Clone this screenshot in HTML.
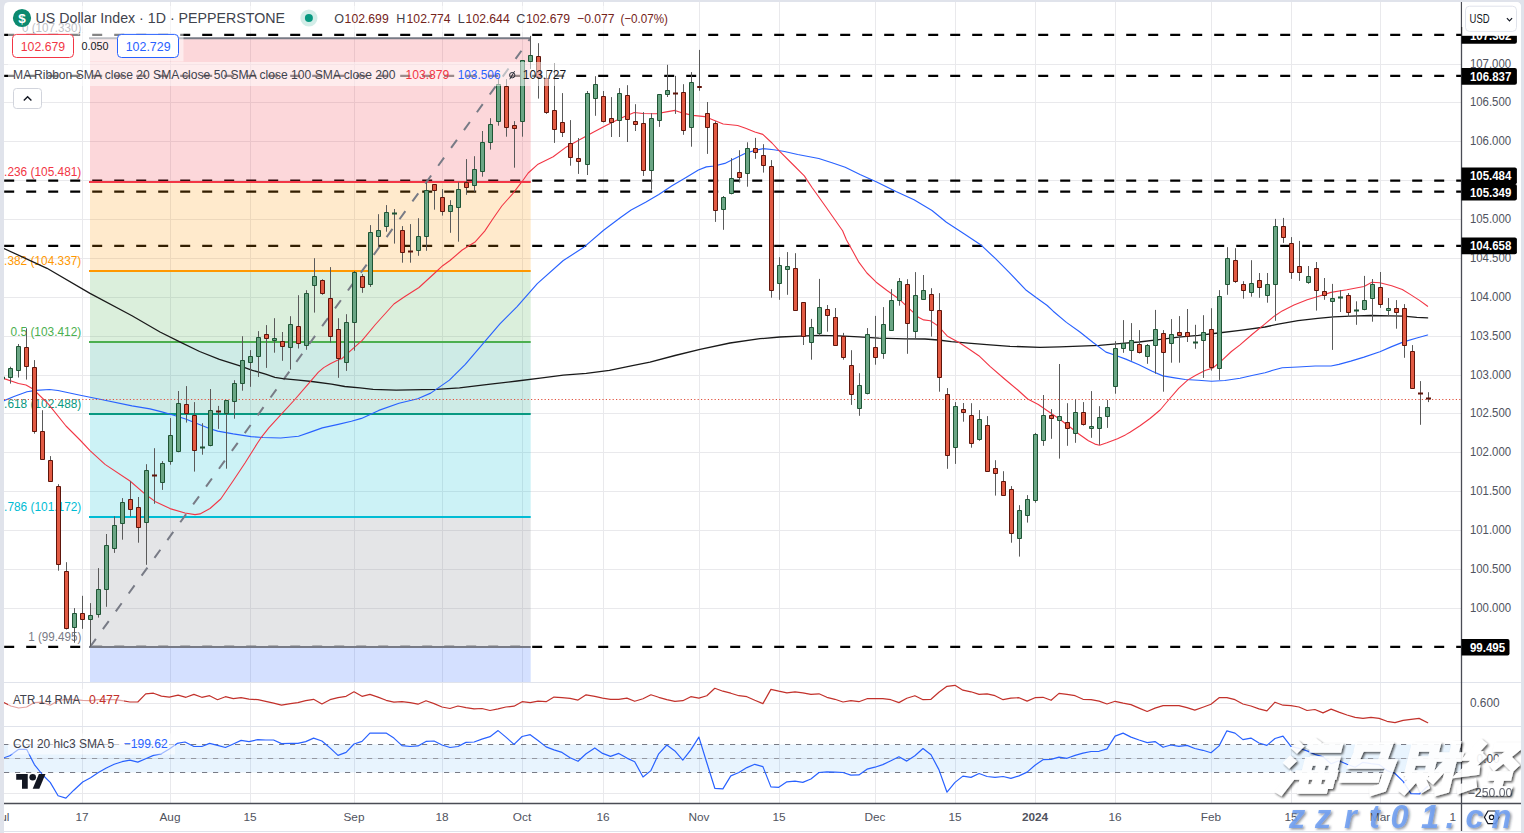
<!DOCTYPE html>
<html><head><meta charset="utf-8"><title>US Dollar Index</title>
<style>
html,body{margin:0;padding:0;background:#e0e3eb;}
body{width:1524px;height:833px;overflow:hidden;font-family:"Liberation Sans",sans-serif;}
svg{display:block;}
svg text{font-family:"Liberation Sans",sans-serif;}
</style></head><body>
<svg width="1524" height="833" viewBox="0 0 1524 833">
<defs><clipPath id="cp"><path d="M4 831V7Q4 2 9 2H1516Q1521 2 1521 7V831Z M4 832H1521V833H4Z"/></clipPath><clipPath id="pan"><path d="M4 831V7Q4 2 9 2H1516Q1521 2 1521 7V831Z"/></clipPath>
<clipPath id="main"><rect x="4" y="2" width="1457.5" height="680.5"/></clipPath>
<clipPath id="atr"><rect x="4" y="682.5" width="1457.5" height="44.0"/></clipPath>
<clipPath id="cci"><rect x="4" y="726.5" width="1457.5" height="77.0"/></clipPath>
<filter id="wsh" x="-5%" y="-10%" width="110%" height="130%"><feDropShadow dx="1.6" dy="1.6" stdDeviation="0.9" flood-color="#000" flood-opacity="0.75"/></filter>
<filter id="wsh2" x="-5%" y="-20%" width="110%" height="150%"><feDropShadow dx="1.5" dy="1.5" stdDeviation="0.8" flood-color="#1b2a3a" flood-opacity="0.55"/></filter>
</defs>
<g clip-path="url(#cp)">
<rect x="0" y="0" width="1524" height="833" fill="#e0e3eb"/>
<path d="M4 831V7Q4 2 9 2H1516Q1521 2 1521 7V831Z" fill="#ffffff"/>
<rect x="4" y="832" width="1517" height="1" fill="#ffffff"/>
<path d="M82.5 2V803.5 M170.5 2V803.5 M250.5 2V803.5 M354.5 2V803.5 M442.5 2V803.5 M522.5 2V803.5 M603.5 2V803.5 M699.5 2V803.5 M779.5 2V803.5 M875.5 2V803.5 M955.5 2V803.5 M1035.5 2V803.5 M1115.5 2V803.5 M1211.5 2V803.5 M1291.5 2V803.5 M1380.5 2V803.5 M4 64.5H1461.5 M4 102.5H1461.5 M4 141.5H1461.5 M4 180.5H1461.5 M4 219.5H1461.5 M4 258.5H1461.5 M4 297.5H1461.5 M4 336.5H1461.5 M4 375.5H1461.5 M4 413.5H1461.5 M4 452.5H1461.5 M4 491.5H1461.5 M4 530.5H1461.5 M4 569.5H1461.5 M4 608.5H1461.5 M4 703.5H1461.5 M4 758.5H1461.5 M4 793.5H1461.5" stroke="#e9e9ec" stroke-width="1" fill="none"/>
<g clip-path="url(#main)">
<line x1="4.2" y1="34.9" x2="1461.5" y2="34.9" stroke="#000" stroke-width="2.3" stroke-dasharray="10 12"/>
<line x1="4.2" y1="75.9" x2="1461.5" y2="75.9" stroke="#000" stroke-width="2.3" stroke-dasharray="10 12"/>
<line x1="4.2" y1="180.7" x2="1461.5" y2="180.7" stroke="#000" stroke-width="2.3" stroke-dasharray="10 12"/>
<line x1="4.2" y1="191.7" x2="1461.5" y2="191.7" stroke="#000" stroke-width="2.3" stroke-dasharray="10 12"/>
<line x1="4.2" y1="245.9" x2="1461.5" y2="245.9" stroke="#000" stroke-width="2.3" stroke-dasharray="10 12"/>
<line x1="4.2" y1="646.9" x2="1461.5" y2="646.9" stroke="#000" stroke-width="2.3" stroke-dasharray="10 12"/>
<rect x="90" y="38.2" width="440.7" height="143.8" fill="#f23645" fill-opacity="0.2"/>
<rect x="90" y="182.0" width="440.7" height="88.9" fill="#ff9800" fill-opacity="0.2"/>
<rect x="90" y="270.9" width="440.7" height="71.1" fill="#4caf50" fill-opacity="0.2"/>
<rect x="90" y="342.0" width="440.7" height="72.0" fill="#089981" fill-opacity="0.2"/>
<rect x="90" y="414.0" width="440.7" height="102.9" fill="#00bcd4" fill-opacity="0.2"/>
<rect x="90" y="516.9" width="440.7" height="130.1" fill="#787b86" fill-opacity="0.2"/>
<rect x="90" y="647" width="440.7" height="35.0" fill="#2962ff" fill-opacity="0.2"/>
<line x1="89" y1="38.2" x2="530.7" y2="38.2" stroke="#787b86" stroke-width="2"/>
<line x1="89" y1="182.0" x2="530.7" y2="182.0" stroke="#f23645" stroke-width="2"/>
<line x1="89" y1="270.9" x2="530.7" y2="270.9" stroke="#ff9800" stroke-width="2"/>
<line x1="89" y1="342.0" x2="530.7" y2="342.0" stroke="#4caf50" stroke-width="2"/>
<line x1="89" y1="414.0" x2="530.7" y2="414.0" stroke="#089981" stroke-width="2"/>
<line x1="89" y1="516.9" x2="530.7" y2="516.9" stroke="#00bcd4" stroke-width="2"/>
<line x1="89" y1="647.0" x2="530.7" y2="647.0" stroke="#787b86" stroke-width="2"/>
<line x1="90" y1="647" x2="530.2" y2="38.6" stroke="#787b86" stroke-width="2" stroke-dasharray="10 12"/>
<text x="22.0" y="32.4" font-size="12" fill="#787b86" textLength="59.3" lengthAdjust="spacingAndGlyphs">0 (107.330)</text>
<text x="-2.5" y="176.2" font-size="12" fill="#f23645" textLength="83.8" lengthAdjust="spacingAndGlyphs">0.236 (105.481)</text>
<text x="-2.5" y="265.1" font-size="12" fill="#ff9800" textLength="83.8" lengthAdjust="spacingAndGlyphs">0.382 (104.337)</text>
<text x="10.599999999999994" y="336.2" font-size="12" fill="#4caf50" textLength="70.7" lengthAdjust="spacingAndGlyphs">0.5 (103.412)</text>
<text x="-2.5" y="408.2" font-size="12" fill="#089981" textLength="83.8" lengthAdjust="spacingAndGlyphs">0.618 (102.488)</text>
<text x="-2.5" y="511.1" font-size="12" fill="#00bcd4" textLength="83.8" lengthAdjust="spacingAndGlyphs">0.786 (101.172)</text>
<text x="28.199999999999996" y="641.2" font-size="12" fill="#787b86" textLength="53.1" lengthAdjust="spacingAndGlyphs">1 (99.495)</text>
<path d="M4.0 248.5 L47.0 268.3 L90.0 293.4 L132.0 315.8 L160.0 332.0 L179.8 341.9 L199.6 351.5 L219.4 359.4 L239.2 365.6 L252.4 370.3 L265.6 374.2 L274.9 377.3 L282.8 378.6 L298.6 380.2 L311.8 381.5 L331.6 384.1 L344.8 386.5 L360.0 387.9 L373.1 389.3 L396.1 390.2 L436.5 389.3 L459.5 387.9 L488.3 384.4 L517.1 381.0 L540.2 378.1 L563.3 375.2 L586.3 373.4 L609.4 370.3 L632.4 365.7 L650.0 362.2 L675.0 355.5 L700.0 349.3 L730.0 343.0 L760.0 338.7 L779.8 337.0 L799.6 336.1 L819.4 335.4 L839.2 335.8 L859.0 336.9 L878.8 338.1 L905.2 338.8 L925.0 339.0 L938.2 340.0 L951.4 341.7 L968.2 343.2 L990.0 344.8 L1010.0 346.3 L1040.0 347.3 L1059.8 346.9 L1079.6 346.2 L1099.4 345.3 L1119.2 343.6 L1139.0 342.0 L1158.8 339.6 L1178.6 337.2 L1198.4 335.4 L1218.2 333.0 L1240.0 330.4 L1265.0 327.0 L1278.2 324.1 L1298.0 320.6 L1317.8 318.4 L1333.6 316.9 L1350.8 316.2 L1370.6 315.5 L1390.4 315.8 L1403.6 316.2 L1416.8 317.3 L1427.6 317.9" fill="none" stroke="#1a1a1a" stroke-width="1.3" stroke-linejoin="round" stroke-linecap="round"/>
<path d="M4.0 400.7 L14.0 396.5 L27.0 391.8 L36.0 390.4 L49.5 389.5 L58.0 390.5 L79.0 395.0 L100.0 399.3 L132.0 405.9 L150.0 408.9 L161.9 411.9 L173.8 415.2 L185.6 419.0 L197.5 423.8 L209.4 428.5 L217.7 431.1 L233.2 433.9 L251.0 436.6 L262.9 437.5 L280.7 438.0 L298.5 436.2 L310.4 432.1 L322.3 427.9 L338.2 424.4 L351.4 421.3 L361.5 418.4 L378.8 410.4 L399.0 403.2 L417.7 398.8 L430.7 393.1 L449.4 380.1 L465.3 364.3 L482.6 344.1 L499.9 323.9 L517.1 306.6 L537.3 283.6 L563.3 260.5 L583.4 247.6 L603.6 230.3 L620.9 217.3 L631.1 210.0 L645.6 202.3 L658.8 194.4 L672.0 185.8 L685.2 177.9 L698.4 170.0 L706.3 166.9 L714.3 166.0 L724.8 163.4 L734.3 158.8 L744.9 153.5 L755.4 150.2 L763.4 148.6 L773.9 149.8 L784.5 151.5 L797.7 154.5 L818.8 158.5 L832.0 162.7 L845.2 167.3 L860.0 174.5 L876.2 181.7 L896.0 191.6 L914.0 199.7 L932.0 210.5 L946.4 222.2 L964.4 233.9 L980.6 244.7 L995.0 258.2 L1009.4 272.6 L1025.6 289.7 L1036.4 297.8 L1047.2 305.5 L1053.2 311.2 L1066.4 322.4 L1079.6 331.7 L1092.8 342.2 L1106.0 352.1 L1113.9 354.8 L1125.8 359.1 L1139.0 364.7 L1152.2 371.3 L1162.8 375.9 L1174.7 377.9 L1185.2 379.5 L1198.4 380.3 L1211.6 381.2 L1224.8 380.5 L1240.0 378.2 L1252.0 375.5 L1265.0 372.7 L1272.9 370.3 L1282.2 367.7 L1298.0 367.0 L1315.2 366.0 L1331.0 366.0 L1338.9 364.4 L1350.8 361.1 L1364.0 357.1 L1379.9 351.8 L1391.7 346.6 L1403.6 341.9 L1416.8 338.0 L1427.6 335.0" fill="none" stroke="#2962ff" stroke-width="1.15" stroke-linejoin="round" stroke-linecap="round"/>
<path d="M4.0 378.6 L18.5 383.5 L26.0 385.0 L33.0 389.0 L48.0 403.6 L66.0 426.0 L80.0 440.0 L90.0 450.6 L105.0 464.4 L130.0 481.0 L146.0 494.8 L155.0 501.4 L170.0 508.6 L185.0 513.0 L195.0 514.6 L200.0 513.9 L210.0 508.5 L220.7 499.0 L233.2 480.8 L245.0 463.0 L256.9 444.0 L261.7 436.8 L268.8 427.9 L280.7 414.9 L294.4 400.0 L309.2 382.8 L318.4 372.2 L323.7 367.6 L330.3 363.7 L336.9 360.6 L342.2 358.4 L350.1 351.1 L362.2 340.3 L375.4 324.5 L393.9 304.0 L404.5 296.8 L419.0 287.5 L434.8 273.0 L442.7 265.7 L450.0 260.5 L462.2 250.0 L475.4 241.7 L484.7 231.1 L492.6 219.2 L501.8 206.0 L512.4 194.1 L521.6 182.2 L528.2 173.0 L537.5 164.6 L553.2 156.8 L566.4 146.9 L579.6 139.8 L592.8 132.5 L606.0 125.6 L619.2 119.0 L626.3 115.8 L634.3 112.5 L643.0 113.5 L656.2 113.7 L666.4 111.9 L675.0 110.4 L680.9 112.6 L692.8 115.4 L704.7 116.6 L713.9 120.2 L723.2 124.0 L737.7 125.5 L745.6 128.2 L754.9 132.0 L762.8 134.4 L772.0 143.0 L779.2 150.8 L792.4 164.0 L804.3 175.9 L812.2 187.8 L825.4 206.3 L834.7 219.5 L842.6 230.7 L846.5 240.0 L852.4 250.6 L859.0 262.4 L866.9 273.0 L876.2 282.2 L886.7 290.2 L898.6 298.7 L909.2 308.6 L918.4 317.2 L923.7 319.9 L930.3 320.8 L936.9 325.1 L941.8 330.0 L947.1 335.9 L959.0 342.5 L968.2 348.5 L978.8 355.7 L990.0 366.3 L1004.0 378.5 L1017.8 390.0 L1027.7 399.0 L1038.3 404.5 L1048.8 411.8 L1059.4 419.0 L1069.9 427.0 L1079.2 434.2 L1088.4 440.8 L1095.0 444.1 L1099.6 445.2 L1106.9 442.8 L1117.5 438.8 L1125.4 434.9 L1130.0 432.2 L1140.0 425.8 L1150.0 418.5 L1160.1 410.0 L1169.4 399.0 L1178.6 388.4 L1187.9 379.9 L1195.8 375.2 L1205.0 370.6 L1212.9 368.0 L1222.2 360.1 L1231.4 351.5 L1240.0 344.9 L1252.0 334.5 L1265.0 323.9 L1274.2 316.2 L1282.2 310.9 L1294.0 305.0 L1307.2 299.7 L1320.4 295.7 L1331.0 292.4 L1346.8 289.8 L1364.0 286.5 L1371.9 282.3 L1379.9 282.8 L1391.7 285.8 L1402.3 289.5 L1410.2 294.4 L1419.5 300.4 L1427.6 306.3" fill="none" stroke="#f23645" stroke-width="1.1" stroke-linejoin="round" stroke-linecap="round"/>
<line x1="4" y1="399.5" x2="1461.5" y2="399.5" stroke="#e0533f" stroke-width="1.2" stroke-dasharray="1.2 2.2"/>
<path d="M10.5 366.7V383.6 M18.5 344.0V377.5 M26.5 328.3V379.6 M34.5 360.1V433.7 M42.5 410.2V459.5 M50.5 456.1V481.6 M58.5 484.2V570.7 M66.5 562.2V629.5 M74.5 608.1V642.7 M82.5 595.8V628.8 M90.5 603.1V646.7 M98.5 568.1V617.6 M106.5 534.0V606.8 M114.5 516.3V552.9 M122.5 498.1V539.7 M130.5 481.3V516.6 M138.5 497.0V542.7 M146.5 464.2V564.8 M154.5 448.2V503.8 M162.5 461.1V489.9 M170.5 418.1V464.7 M178.5 391.0V452.3 M186.5 386.1V422.6 M194.5 402.1V471.6 M202.5 423.2V454.7 M210.5 389.0V446.3 M218.5 405.9V428.9 M226.5 400.0V468.7 M234.5 380.2V418.7 M242.5 336.2V390.7 M250.5 350.1V386.8 M258.5 331.1V376.9 M266.5 325.1V367.9 M274.5 318.2V352.7 M282.5 332.0V360.8 M290.5 316.2V369.6 M298.5 295.2V348.5 M306.5 290.2V349.8 M314.5 258.2V312.6 M322.5 279.2V294.8 M330.5 267.1V342.7 M338.5 318.2V377.8 M346.5 314.2V370.9 M354.5 271.0V350.7 M362.5 274.1V292.8 M370.5 225.1V286.9 M378.5 214.2V245.9 M386.5 205.1V231.7 M394.5 209.0V243.6 M402.5 226.1V262.7 M410.5 224.1V262.7 M418.5 218.2V255.8 M426.5 182.5V250.8 M434.5 184.2V209.7 M442.5 189.1V215.6 M450.5 200.2V232.8 M458.5 182.2V241.7 M466.5 159.1V194.8 M474.5 156.2V191.7 M482.5 131.0V176.7 M490.5 118.2V149.6 M498.5 78.6V125.7 M506.5 79.1V136.7 M514.5 121.1V167.7 M522.5 60.1V136.7 M530.5 35.9V68.9 M538.5 43.2V98.6 M546.5 70.3V113.9 M554.5 63.0V142.9 M562.5 93.1V137.0 M570.5 120.1V165.7 M578.5 138.0V173.9 M587.5 91.0V175.0 M595.5 76.2V115.8 M603.5 91.0V122.4 M611.5 97.1V137.0 M619.5 88.1V137.0 M627.5 85.2V142.0 M635.5 104.2V131.0 M643.5 112.1V175.9 M651.5 113.2V189.8 M659.5 94.1V126.9 M667.5 64.8V97.0 M675.5 75.9V113.9 M683.5 84.2V134.8 M691.5 72.1V146.7 M699.5 49.9V90.8 M707.5 102.0V153.9 M715.5 121.2V221.9 M723.5 196.0V229.8 M731.5 158.1V194.4 M739.5 150.2V182.5 M747.5 142.3V186.7 M755.5 137.9V158.8 M763.5 144.2V172.6 M771.5 160.1V297.7 M779.5 257.2V299.8 M787.5 252.1V294.8 M795.5 253.2V310.6 M803.5 302.0V345.0 M811.5 318.9V359.7 M819.5 278.9V335.7 M827.5 305.0V331.7 M835.5 308.0V345.6 M843.5 332.9V359.7 M851.5 350.2V404.9 M859.5 373.2V415.8 M867.5 328.1V394.4 M875.5 315.9V364.7 M883.5 307.1V358.8 M891.5 289.1V330.7 M899.5 278.0V305.7 M907.5 279.2V353.8 M915.5 272.1V338.3 M923.5 275.0V299.7 M931.5 288.2V336.6 M939.5 293.1V391.7 M947.5 388.1V468.8 M955.5 402.1V463.9 M963.5 403.0V421.7 M971.5 403.2V447.7 M979.5 410.1V440.8 M987.5 416.1V471.6 M995.5 460.2V495.6 M1003.5 471.2V495.6 M1011.5 486.1V542.7 M1019.5 505.2V556.6 M1027.5 495.1V522.6 M1035.5 432.9V502.7 M1043.5 395.0V445.8 M1051.5 409.1V438.8 M1059.5 364.0V458.6 M1067.5 403.2V445.8 M1075.5 399.5V442.8 M1083.5 402.1V425.6 M1091.5 391.1V437.8 M1099.5 406.2V444.8 M1107.5 399.9V427.9 M1115.5 341.2V393.7 M1123.5 320.1V352.8 M1131.5 323.1V360.7 M1139.5 330.1V353.5 M1147.5 344.0V363.8 M1155.5 309.9V373.7 M1163.5 330.1V391.7 M1171.5 319.1V362.7 M1179.5 316.1V362.7 M1187.5 309.0V342.0 M1195.5 324.8V348.8 M1203.5 315.2V377.9 M1211.5 308.2V370.6 M1219.5 290.1V379.9 M1227.5 247.2V294.8 M1235.5 248.2V282.9 M1243.5 281.2V298.7 M1251.5 260.2V296.7 M1259.5 273.0V297.8 M1267.5 273.0V302.7 M1275.5 218.9V320.8 M1283.5 217.9V242.9 M1291.5 237.1V278.9 M1299.5 240.9V280.9 M1308.5 266.0V283.8 M1316.5 262.0V310.6 M1324.5 278.0V299.8 M1332.5 283.9V349.9 M1340.5 290.1V312.0 M1348.5 293.1V316.9 M1356.5 301.3V324.8 M1364.5 275.9V310.3 M1372.5 279.0V321.7 M1380.5 272.0V307.9 M1388.5 298.0V316.2 M1396.5 300.1V328.7 M1404.5 304.1V357.8 M1412.5 345.1V388.6 M1420.5 381.1V424.8 M1428.5 392.2V402.1" stroke="#5a5a5a" stroke-width="1" fill="none"/>
<path d="M8.5 368.5H12.5V377.5H8.5Z M16.5 346.5H20.5V370.5H16.5Z M72.5 613.5H76.5V627.5H72.5Z M88.5 615.5H92.5V619.5H88.5Z M96.5 589.5H100.5V614.5H96.5Z M104.5 545.5H108.5V589.5H104.5Z M112.5 525.5H116.5V548.5H112.5Z M120.5 502.5H124.5V523.5H120.5Z M144.5 470.5H148.5V522.5H144.5Z M160.5 463.5H164.5V482.5H160.5Z M168.5 435.5H172.5V461.5H168.5Z M176.5 403.5H180.5V451.5H176.5Z M208.5 410.5H212.5V445.5H208.5Z M224.5 400.5H228.5V413.5H224.5Z M232.5 383.5H236.5V401.5H232.5Z M240.5 360.5H244.5V383.5H240.5Z M248.5 356.5H252.5V362.5H248.5Z M256.5 337.5H260.5V356.5H256.5Z M272.5 338.5H276.5V340.5H272.5Z M288.5 324.5H292.5V347.5H288.5Z M304.5 293.5H308.5V345.5H304.5Z M312.5 276.5H316.5V285.5H312.5Z M344.5 322.5H348.5V362.5H344.5Z M352.5 272.5H356.5V322.5H352.5Z M368.5 232.5H372.5V284.5H368.5Z M376.5 230.5H380.5V236.5H376.5Z M384.5 212.5H388.5V226.5H384.5Z M416.5 236.5H420.5V250.5H416.5Z M424.5 190.5H428.5V236.5H424.5Z M448.5 205.5H452.5V211.5H448.5Z M456.5 189.5H460.5V207.5H456.5Z M472.5 169.5H476.5V185.5H472.5Z M480.5 142.5H484.5V171.5H480.5Z M488.5 124.5H492.5V142.5H488.5Z M496.5 84.5H500.5V121.5H496.5Z M520.5 60.5H524.5V121.5H520.5Z M528.5 55.5H532.5V61.5H528.5Z M585.5 93.5H589.5V164.5H585.5Z M593.5 84.5H597.5V98.5H593.5Z M617.5 93.5H621.5V120.5H617.5Z M649.5 118.5H653.5V170.5H649.5Z M657.5 94.5H661.5V120.5H657.5Z M665.5 90.5H669.5V94.5H665.5Z M689.5 82.5H693.5V127.5H689.5Z M721.5 197.5H725.5V209.5H721.5Z M729.5 178.5H733.5V193.5H729.5Z M745.5 148.5H749.5V173.5H745.5Z M777.5 265.5H781.5V283.5H777.5Z M785.5 266.5H789.5V269.5H785.5Z M809.5 327.5H813.5V342.5H809.5Z M817.5 307.5H821.5V333.5H817.5Z M857.5 385.5H861.5V408.5H857.5Z M865.5 334.5H869.5V393.5H865.5Z M881.5 324.5H885.5V353.5H881.5Z M889.5 300.5H893.5V330.5H889.5Z M897.5 281.5H901.5V300.5H897.5Z M913.5 295.5H917.5V331.5H913.5Z M921.5 290.5H925.5V299.5H921.5Z M953.5 406.5H957.5V447.5H953.5Z M977.5 419.5H981.5V439.5H977.5Z M1017.5 510.5H1021.5V538.5H1017.5Z M1025.5 499.5H1029.5V515.5H1025.5Z M1033.5 434.5H1037.5V500.5H1033.5Z M1041.5 415.5H1045.5V440.5H1041.5Z M1057.5 416.5H1061.5V420.5H1057.5Z M1073.5 412.5H1077.5V433.5H1073.5Z M1089.5 426.5H1093.5V428.5H1089.5Z M1097.5 417.5H1101.5V428.5H1097.5Z M1105.5 407.5H1109.5V416.5H1105.5Z M1113.5 348.5H1117.5V386.5H1113.5Z M1121.5 343.5H1125.5V348.5H1121.5Z M1129.5 340.5H1133.5V350.5H1129.5Z M1145.5 345.5H1149.5V356.5H1145.5Z M1153.5 329.5H1157.5V345.5H1153.5Z M1169.5 334.5H1173.5V343.5H1169.5Z M1201.5 332.5H1205.5V340.5H1201.5Z M1217.5 296.5H1221.5V368.5H1217.5Z M1225.5 258.5H1229.5V284.5H1225.5Z M1249.5 283.5H1253.5V292.5H1249.5Z M1265.5 284.5H1269.5V295.5H1265.5Z M1273.5 226.5H1277.5V284.5H1273.5Z M1306.5 276.5H1310.5V282.5H1306.5Z M1330.5 298.5H1334.5V301.5H1330.5Z M1362.5 300.5H1366.5V309.5H1362.5Z M1370.5 284.5H1374.5V298.5H1370.5Z M1386.5 308.5H1390.5V310.5H1386.5Z" stroke="#1f5535" stroke-width="1" fill="#6ba685"/>
<path d="M24.5 347.5H28.5V366.5H24.5Z M32.5 367.5H36.5V431.5H32.5Z M40.5 431.5H44.5V459.5H40.5Z M48.5 460.5H52.5V481.5H48.5Z M56.5 486.5H60.5V564.5H56.5Z M64.5 571.5H68.5V628.5H64.5Z M80.5 613.5H84.5V619.5H80.5Z M128.5 499.5H132.5V509.5H128.5Z M136.5 507.5H140.5V527.5H136.5Z M184.5 404.5H188.5V413.5H184.5Z M192.5 415.5H196.5V450.5H192.5Z M264.5 334.5H268.5V338.5H264.5Z M280.5 341.5H284.5V346.5H280.5Z M296.5 326.5H300.5V343.5H296.5Z M320.5 280.5H324.5V293.5H320.5Z M328.5 298.5H332.5V336.5H328.5Z M336.5 329.5H340.5V358.5H336.5Z M360.5 276.5H364.5V287.5H360.5Z M400.5 230.5H404.5V252.5H400.5Z M432.5 184.5H436.5V190.5H432.5Z M440.5 197.5H444.5V211.5H440.5Z M464.5 182.5H468.5V187.5H464.5Z M504.5 86.5H508.5V127.5H504.5Z M512.5 125.5H516.5V128.5H512.5Z M536.5 56.5H540.5V77.5H536.5Z M544.5 78.5H548.5V112.5H544.5Z M552.5 110.5H556.5V129.5H552.5Z M560.5 122.5H564.5V132.5H560.5Z M568.5 143.5H572.5V157.5H568.5Z M576.5 158.5H580.5V161.5H576.5Z M601.5 96.5H605.5V121.5H601.5Z M609.5 118.5H613.5V122.5H609.5Z M625.5 95.5H629.5V119.5H625.5Z M633.5 121.5H637.5V124.5H633.5Z M641.5 123.5H645.5V170.5H641.5Z M681.5 92.5H685.5V130.5H681.5Z M697.5 86.5H701.5V87.5H697.5Z M705.5 113.5H709.5V127.5H705.5Z M713.5 123.5H717.5V210.5H713.5Z M737.5 172.5H741.5V177.5H737.5Z M753.5 148.5H757.5V152.5H753.5Z M761.5 155.5H765.5V165.5H761.5Z M769.5 166.5H773.5V290.5H769.5Z M793.5 268.5H797.5V310.5H793.5Z M801.5 302.5H805.5V336.5H801.5Z M825.5 309.5H829.5V315.5H825.5Z M833.5 317.5H837.5V345.5H833.5Z M841.5 336.5H845.5V357.5H841.5Z M849.5 365.5H853.5V394.5H849.5Z M873.5 347.5H877.5V357.5H873.5Z M905.5 284.5H909.5V323.5H905.5Z M929.5 294.5H933.5V310.5H929.5Z M937.5 310.5H941.5V377.5H937.5Z M945.5 394.5H949.5V455.5H945.5Z M961.5 409.5H965.5V412.5H961.5Z M969.5 415.5H973.5V443.5H969.5Z M985.5 425.5H989.5V471.5H985.5Z M993.5 468.5H997.5V473.5H993.5Z M1001.5 481.5H1005.5V495.5H1001.5Z M1009.5 489.5H1013.5V533.5H1009.5Z M1049.5 415.5H1053.5V418.5H1049.5Z M1065.5 422.5H1069.5V428.5H1065.5Z M1081.5 412.5H1085.5V424.5H1081.5Z M1137.5 344.5H1141.5V352.5H1137.5Z M1161.5 333.5H1165.5V352.5H1161.5Z M1177.5 332.5H1181.5V335.5H1177.5Z M1185.5 332.5H1189.5V336.5H1185.5Z M1209.5 329.5H1213.5V367.5H1209.5Z M1233.5 260.5H1237.5V281.5H1233.5Z M1241.5 284.5H1245.5V290.5H1241.5Z M1257.5 280.5H1261.5V287.5H1257.5Z M1281.5 226.5H1285.5V237.5H1281.5Z M1289.5 243.5H1293.5V272.5H1289.5Z M1297.5 266.5H1301.5V272.5H1297.5Z M1314.5 268.5H1318.5V290.5H1314.5Z M1322.5 291.5H1326.5V295.5H1322.5Z M1346.5 295.5H1350.5V312.5H1346.5Z M1378.5 287.5H1382.5V304.5H1378.5Z M1394.5 308.5H1398.5V312.5H1394.5Z M1402.5 308.5H1406.5V345.5H1402.5Z M1410.5 351.5H1414.5V388.5H1410.5Z" stroke="#5e150b" stroke-width="1" fill="#e25a43"/>
<path d="M200.0 447.5H205.0 M392.0 213.5H397.0 M1193.0 342.5H1198.0 M1338.0 297.5H1343.0 M1354.0 310.5H1359.0" stroke="#1f5535" stroke-width="1.9" fill="none"/>
<path d="M152.0 475.5H157.0 M216.0 411.5H221.0 M408.0 251.5H413.0 M673.0 93.5H678.0 M1418.0 393.5H1423.0 M1426.0 398.5H1431.0" stroke="#5e150b" stroke-width="1.9" fill="none"/>
<rect x="4" y="376.8" width="1" height="2.4" fill="#1f5535"/>
<rect x="8" y="6" width="664" height="26" fill="#fff" fill-opacity="0.52"/>
<rect x="8" y="33" width="175.5" height="28.5" fill="#fff" fill-opacity="0.52"/>
<rect x="8" y="62" width="562" height="24" fill="#fff" fill-opacity="0.52"/>
</g>
<circle cx="22" cy="18" r="9.1" fill="#0c8a6f"/>
<text x="22" y="22.9" font-size="13.5" fill="#fff" text-anchor="middle" font-weight="bold">$</text>
<text x="35.6" y="23.3" font-size="14.2" fill="#3f434d" textLength="249.4" lengthAdjust="spacingAndGlyphs">US Dollar Index · 1D · PEPPERSTONE</text>
<circle cx="308.9" cy="18" r="8.6" fill="#089981" fill-opacity="0.18"/>
<circle cx="308.9" cy="18" r="4" fill="#089981"/>
<text x="334.3" y="22.8" font-size="12.6" fill="#3f434d">O</text>
<text x="344.6" y="22.8" font-size="12.6" fill="#74231a" textLength="44.1" lengthAdjust="spacingAndGlyphs">102.699</text>
<text x="396.3" y="22.8" font-size="12.6" fill="#3f434d">H</text>
<text x="406.6" y="22.8" font-size="12.6" fill="#74231a" textLength="44.0" lengthAdjust="spacingAndGlyphs">102.774</text>
<text x="457.7" y="22.8" font-size="12.6" fill="#3f434d">L</text>
<text x="465.6" y="22.8" font-size="12.6" fill="#74231a" textLength="44.1" lengthAdjust="spacingAndGlyphs">102.644</text>
<text x="516.2" y="22.8" font-size="12.6" fill="#3f434d">C</text>
<text x="525.9" y="22.8" font-size="12.6" fill="#74231a" textLength="44.1" lengthAdjust="spacingAndGlyphs">102.679</text>
<text x="577.1" y="22.8" font-size="12.6" fill="#74231a" textLength="37.5" lengthAdjust="spacingAndGlyphs">−0.077</text>
<text x="620.4" y="22.8" font-size="12.6" fill="#74231a" textLength="47.6" lengthAdjust="spacingAndGlyphs">(−0.07%)</text>
<rect x="12.5" y="34.4" width="61" height="23.1" rx="4" fill="#fff" stroke="#f23645" stroke-width="1"/>
<text x="20.7" y="50.7" font-size="12.6" fill="#f23645" textLength="44.5" lengthAdjust="spacingAndGlyphs">102.679</text>
<text x="81.6" y="50.3" font-size="11" fill="#131722" textLength="27" lengthAdjust="spacingAndGlyphs">0.050</text>
<rect x="117.5" y="34.4" width="61" height="23.1" rx="4" fill="#fff" stroke="#2962ff" stroke-width="1"/>
<text x="125.7" y="50.7" font-size="12.6" fill="#2962ff" textLength="44.9" lengthAdjust="spacingAndGlyphs">102.729</text>
<text x="13.1" y="79.4" font-size="12" fill="#3f434d" textLength="382.4" lengthAdjust="spacingAndGlyphs">MA Ribbon SMA close 20 SMA close 50 SMA close 100 SMA close 200</text>
<text x="405.5" y="79.4" font-size="12.4" fill="#f23645" textLength="43.8" lengthAdjust="spacingAndGlyphs">103.879</text>
<text x="457.7" y="79.4" font-size="12.4" fill="#2962ff" textLength="42.8" lengthAdjust="spacingAndGlyphs">103.506</text>
<circle cx="512.2" cy="75.2" r="2.7" fill="none" stroke="#2b2f3a" stroke-width="1"/>
<path d="M509.8 79.2L514.6 71.2" stroke="#2b2f3a" stroke-width="1" fill="none"/>
<text x="522.8" y="79.4" font-size="12.4" fill="#131722" textLength="43.4" lengthAdjust="spacingAndGlyphs">103.727</text>
<rect x="13.5" y="88.5" width="28" height="20" rx="3" fill="#fff" stroke="#d1d4dc" stroke-width="1"/>
<path d="M23.8 100.6L27.6 96.8L31.4 100.6" fill="none" stroke="#131722" stroke-width="1.4"/>
<g clip-path="url(#atr)">
<path d="M3.9 702.6 L10.8 706.0 L18.7 708.0 L26.6 707.0 L34.4 702.6 L42.3 702.2 L50.2 705.2 L58.1 700.7 L65.9 699.3 L74.8 699.7 L82.7 700.3 L90.6 700.7 L98.4 699.7 L114.2 699.7 L122.0 700.7 L129.9 702.0 L137.8 702.0 L145.7 693.8 L153.5 693.2 L161.4 696.1 L169.3 697.1 L178.1 695.2 L186.0 697.3 L193.9 694.4 L201.8 697.3 L209.6 695.7 L217.5 699.7 L225.4 696.7 L233.3 698.7 L241.1 697.7 L249.0 699.1 L257.9 699.7 L265.7 701.3 L273.6 703.2 L281.5 705.2 L290.4 703.6 L297.9 702.6 L305.7 700.7 L313.6 699.3 L321.9 704.0 L330.0 699.7 L338.0 697.7 L346.1 696.3 L354.0 691.8 L362.0 696.3 L369.9 694.4 L378.0 697.1 L386.1 700.3 L393.9 702.2 L402.0 701.7 L410.1 702.6 L418.0 704.2 L426.0 700.7 L434.1 703.6 L442.0 707.0 L450.0 708.5 L457.9 706.0 L466.0 707.6 L474.1 708.9 L481.9 708.5 L490.0 710.5 L498.1 708.9 L505.9 707.0 L514.0 706.2 L522.1 701.7 L530.2 702.6 L538.0 701.1 L546.1 701.7 L554.0 697.1 L562.0 697.7 L570.1 698.3 L578.0 700.1 L586.1 694.8 L594.8 696.3 L602.6 698.1 L610.5 699.3 L618.8 699.3 L626.9 698.1 L634.7 701.3 L643.0 698.7 L650.9 694.8 L658.7 697.3 L666.8 699.7 L674.9 701.3 L682.8 700.7 L690.8 696.7 L698.9 698.1 L706.8 695.7 L714.8 688.3 L722.9 691.2 L730.8 693.2 L738.9 695.7 L746.9 696.7 L754.8 700.3 L762.9 703.6 L770.9 689.4 L778.8 691.2 L786.9 692.8 L795.0 691.8 L802.8 692.8 L810.9 694.4 L819.0 693.8 L826.9 697.3 L834.9 699.3 L843.0 702.0 L850.9 700.7 L858.9 701.7 L867.0 698.7 L874.9 698.7 L882.8 698.7 L890.9 699.7 L898.9 702.6 L906.8 698.3 L914.9 695.7 L923.0 699.7 L931.0 699.3 L938.9 692.2 L947.0 686.3 L955.0 685.3 L962.9 690.2 L971.0 691.8 L979.1 694.4 L987.1 693.8 L995.0 695.7 L1003.1 699.7 L1010.9 698.1 L1019.0 697.7 L1027.1 701.1 L1035.0 697.7 L1043.0 697.3 L1051.1 700.3 L1059.0 693.4 L1067.0 694.4 L1075.1 695.7 L1083.0 699.3 L1091.1 699.7 L1099.1 701.1 L1107.0 704.0 L1115.1 701.3 L1123.1 703.2 L1131.0 704.6 L1139.1 708.1 L1147.2 711.5 L1155.0 708.1 L1163.1 705.6 L1170.8 705.6 L1178.9 705.6 L1187.0 707.6 L1194.8 710.1 L1202.9 707.2 L1211.0 704.2 L1219.1 697.7 L1226.9 697.7 L1235.0 699.7 L1242.9 704.0 L1250.9 706.0 L1259.0 708.9 L1266.9 710.9 L1275.0 702.2 L1283.0 705.2 L1290.9 705.6 L1299.0 707.0 L1307.0 710.5 L1314.9 709.5 L1323.0 712.9 L1331.1 709.1 L1338.9 712.1 L1347.0 715.0 L1355.1 717.4 L1363.0 718.4 L1371.0 717.4 L1379.1 718.4 L1387.0 721.3 L1395.0 722.7 L1403.1 720.4 L1411.0 719.4 L1419.1 718.4 L1427.7 722.7" fill="none" stroke="#c2312b" stroke-width="1.2" stroke-linejoin="round" stroke-linecap="round"/>
<rect x="8" y="689" width="116" height="21" fill="#fff" fill-opacity="0.55"/>
</g>
<text x="13" y="703.9" font-size="12" fill="#3f434d" textLength="67.3" lengthAdjust="spacingAndGlyphs">ATR 14 RMA</text>
<text x="89" y="703.9" font-size="12.4" fill="#c2312b" textLength="30.8" lengthAdjust="spacingAndGlyphs">0.477</text>
<g clip-path="url(#cci)">
<rect x="4" y="744.5" width="1457.5" height="28" fill="#2196f3" fill-opacity="0.1"/>
<line x1="4" y1="744.5" x2="1461.5" y2="744.5" stroke="#787b86" stroke-width="1.1" stroke-dasharray="5.2 5.8"/>
<line x1="4" y1="758.5" x2="1461.5" y2="758.5" stroke="#9598a1" stroke-width="1.1" stroke-dasharray="5.2 5.8"/>
<line x1="4" y1="772.5" x2="1461.5" y2="772.5" stroke="#787b86" stroke-width="1.1" stroke-dasharray="5.2 5.8"/>
<path d="M3.9 757.8 L9.8 755.8 L18.7 749.3 L26.6 749.3 L34.4 764.6 L42.3 774.5 L50.2 782.4 L58.1 795.7 L65.9 798.1 L73.8 790.2 L82.7 782.0 L90.6 777.8 L98.4 772.5 L106.3 768.0 L114.2 764.3 L122.0 761.7 L129.9 760.1 L137.8 762.1 L145.7 758.7 L153.5 755.4 L161.4 753.8 L169.3 748.9 L177.2 743.4 L185.0 742.0 L193.9 746.5 L201.8 746.5 L209.6 743.4 L217.5 745.4 L225.4 747.5 L233.3 744.0 L241.1 740.4 L249.0 741.6 L257.9 739.6 L265.7 740.0 L273.6 740.0 L281.5 743.6 L290.4 743.4 L297.9 743.4 L305.7 741.6 L313.6 738.1 L321.9 741.0 L330.0 747.9 L338.0 755.4 L346.1 752.4 L354.0 744.0 L362.0 741.4 L369.9 733.1 L378.0 733.1 L386.1 733.1 L393.9 738.1 L402.0 745.6 L410.1 746.5 L418.0 745.9 L426.0 741.4 L434.1 741.0 L442.0 745.0 L450.0 747.5 L457.9 746.5 L466.0 742.4 L474.1 742.0 L481.9 739.1 L490.0 736.7 L498.1 730.6 L505.9 737.1 L514.0 744.4 L522.1 736.5 L530.2 734.7 L538.0 740.6 L546.1 746.9 L554.0 749.9 L562.0 752.4 L570.1 757.8 L578.0 761.3 L586.1 753.8 L594.8 747.9 L602.6 753.4 L610.5 756.4 L618.8 753.4 L626.9 758.1 L634.7 761.7 L643.0 777.0 L650.9 770.6 L658.7 753.8 L666.8 745.0 L674.9 750.9 L682.8 760.1 L690.8 749.9 L698.9 737.1 L706.8 762.7 L714.8 788.3 L722.9 788.9 L730.8 775.9 L738.9 772.5 L746.9 767.6 L754.8 764.3 L762.9 766.6 L770.9 786.9 L778.8 787.3 L786.9 781.8 L795.0 781.2 L802.8 782.4 L810.9 779.0 L819.0 772.5 L826.9 771.9 L834.9 772.1 L843.0 772.5 L850.9 775.1 L858.9 774.9 L867.0 769.2 L874.9 767.2 L882.8 764.6 L890.9 760.7 L898.9 756.8 L906.8 761.1 L914.9 755.8 L923.0 748.5 L931.0 754.8 L938.9 769.6 L947.0 792.2 L955.0 782.4 L962.9 776.1 L971.0 777.4 L979.1 773.5 L987.1 776.5 L995.0 777.4 L1003.1 776.5 L1010.9 778.4 L1019.0 775.9 L1027.1 772.1 L1035.0 765.2 L1043.0 759.7 L1051.1 759.3 L1059.0 757.2 L1067.0 758.3 L1075.1 755.4 L1083.0 753.2 L1091.1 751.5 L1099.1 751.3 L1107.0 748.9 L1115.1 736.1 L1123.1 733.1 L1131.0 737.1 L1139.1 740.0 L1147.2 742.6 L1155.0 741.6 L1163.1 747.3 L1170.8 745.0 L1178.9 746.3 L1187.0 745.4 L1194.8 748.5 L1202.9 750.3 L1211.0 752.8 L1219.1 745.9 L1226.9 730.8 L1235.0 733.1 L1242.9 739.6 L1250.9 738.1 L1259.0 743.0 L1266.9 745.4 L1275.0 738.5 L1283.0 736.1 L1290.9 746.3 L1299.0 748.3 L1307.0 750.9 L1314.9 754.4 L1323.0 756.8 L1331.1 763.7 L1338.9 760.7 L1347.0 764.3 L1355.1 767.2 L1363.0 762.3 L1371.0 763.7 L1379.1 764.6 L1387.0 770.6 L1395.0 773.5 L1403.1 781.4 L1411.0 793.6 L1419.8 793.8 L1427.7 786.3" fill="none" stroke="#2962ff" stroke-width="1.2" stroke-linejoin="round" stroke-linecap="round"/>
<rect x="8" y="733.5" width="167" height="21" fill="#fff" fill-opacity="0.55"/>
</g>
<text x="13" y="748.2" font-size="12" fill="#3f434d" textLength="101.2" lengthAdjust="spacingAndGlyphs">CCI 20 hlc3 SMA 5</text>
<text x="123.6" y="748.2" font-size="12.4" fill="#2962ff" textLength="44.1" lengthAdjust="spacingAndGlyphs">−199.62</text>
<path d="M4 682.5H1521 M4 726.5H1521" stroke="#e0e3eb" stroke-width="1" fill="none"/>
<path d="M1461.5 2V831 M4 803.5H1521" stroke="#4a4c55" stroke-width="1.3" fill="none"/>
<text x="1469.9" y="68.3" font-size="12" fill="#50535e" textLength="41.2" lengthAdjust="spacingAndGlyphs">107.000</text>
<text x="1469.9" y="106.3" font-size="12" fill="#50535e" textLength="41.2" lengthAdjust="spacingAndGlyphs">106.500</text>
<text x="1469.9" y="145.3" font-size="12" fill="#50535e" textLength="41.2" lengthAdjust="spacingAndGlyphs">106.000</text>
<text x="1469.9" y="184.3" font-size="12" fill="#50535e" textLength="41.2" lengthAdjust="spacingAndGlyphs">105.500</text>
<text x="1469.9" y="223.3" font-size="12" fill="#50535e" textLength="41.2" lengthAdjust="spacingAndGlyphs">105.000</text>
<text x="1469.9" y="262.3" font-size="12" fill="#50535e" textLength="41.2" lengthAdjust="spacingAndGlyphs">104.500</text>
<text x="1469.9" y="301.3" font-size="12" fill="#50535e" textLength="41.2" lengthAdjust="spacingAndGlyphs">104.000</text>
<text x="1469.9" y="340.3" font-size="12" fill="#50535e" textLength="41.2" lengthAdjust="spacingAndGlyphs">103.500</text>
<text x="1469.9" y="379.3" font-size="12" fill="#50535e" textLength="41.2" lengthAdjust="spacingAndGlyphs">103.000</text>
<text x="1469.9" y="417.3" font-size="12" fill="#50535e" textLength="41.2" lengthAdjust="spacingAndGlyphs">102.500</text>
<text x="1469.9" y="456.3" font-size="12" fill="#50535e" textLength="41.2" lengthAdjust="spacingAndGlyphs">102.000</text>
<text x="1469.9" y="495.3" font-size="12" fill="#50535e" textLength="41.2" lengthAdjust="spacingAndGlyphs">101.500</text>
<text x="1469.9" y="534.3" font-size="12" fill="#50535e" textLength="41.2" lengthAdjust="spacingAndGlyphs">101.000</text>
<text x="1469.9" y="573.3" font-size="12" fill="#50535e" textLength="41.2" lengthAdjust="spacingAndGlyphs">100.500</text>
<text x="1469.9" y="612.3" font-size="12" fill="#50535e" textLength="41.2" lengthAdjust="spacingAndGlyphs">100.000</text>
<text x="1470" y="707.3" font-size="12" fill="#50535e" textLength="29.6" lengthAdjust="spacingAndGlyphs">0.600</text>
<text x="1476.5" y="762.5" font-size="12" fill="#50535e" textLength="23.2" lengthAdjust="spacingAndGlyphs">0.00</text>
<text x="1467.8" y="796.8" font-size="12" fill="#50535e" textLength="44.5" lengthAdjust="spacingAndGlyphs">−250.00</text>
<path d="M1461.5 27.1H1514.9Q1516.9 27.1 1516.9 29.1V41.7Q1516.9 43.7 1514.9 43.7H1461.5Z" fill="#000"/>
<text x="1469.9" y="39.699999999999996" font-size="12" fill="#fff" textLength="41.4" lengthAdjust="spacingAndGlyphs" font-weight="bold">107.362</text>
<path d="M1461.5 68.1H1514.9Q1516.9 68.1 1516.9 70.1V82.7Q1516.9 84.7 1514.9 84.7H1461.5Z" fill="#000"/>
<text x="1469.9" y="80.7" font-size="12" fill="#fff" textLength="41.4" lengthAdjust="spacingAndGlyphs" font-weight="bold">106.837</text>
<path d="M1461.5 167.6H1514.9Q1516.9 167.6 1516.9 169.6V182.2Q1516.9 184.2 1514.9 184.2H1461.5Z" fill="#000"/>
<text x="1469.9" y="180.20000000000002" font-size="12" fill="#fff" textLength="41.4" lengthAdjust="spacingAndGlyphs" font-weight="bold">105.484</text>
<path d="M1461.5 184.0H1514.9Q1516.9 184.0 1516.9 186.0V198.6Q1516.9 200.6 1514.9 200.6H1461.5Z" fill="#000"/>
<text x="1469.9" y="196.60000000000002" font-size="12" fill="#fff" textLength="41.4" lengthAdjust="spacingAndGlyphs" font-weight="bold">105.349</text>
<path d="M1461.5 237.6H1514.9Q1516.9 237.6 1516.9 239.6V252.2Q1516.9 254.2 1514.9 254.2H1461.5Z" fill="#000"/>
<text x="1469.9" y="250.20000000000002" font-size="12" fill="#fff" textLength="41.4" lengthAdjust="spacingAndGlyphs" font-weight="bold">104.658</text>
<path d="M1461.5 639.0H1507.5Q1509.5 639.0 1509.5 641.0V653.6Q1509.5 655.6 1507.5 655.6H1461.5Z" fill="#000"/>
<text x="1469.9" y="651.5999999999999" font-size="12" fill="#fff" textLength="35.2" lengthAdjust="spacingAndGlyphs" font-weight="bold">99.495</text>
<rect x="1462.2" y="2" width="58.8" height="33.8" fill="#fff"/>
<rect x="1465.5" y="6.2" width="51" height="25.2" rx="4" fill="#fff" stroke="#e0e3eb" stroke-width="1"/>
<text x="1469.6" y="23.2" font-size="12.5" fill="#131722" textLength="20" lengthAdjust="spacingAndGlyphs">USD</text>
<path d="M1506.9 18.2L1509.5 20.8L1512.1 18.2" fill="none" stroke="#131722" stroke-width="1.2"/>
<text x="82.0" y="820.6" font-size="11.8" fill="#50535e" text-anchor="middle">17</text>
<text x="170.0" y="820.6" font-size="11.8" fill="#50535e" text-anchor="middle">Aug</text>
<text x="250.0" y="820.6" font-size="11.8" fill="#50535e" text-anchor="middle">15</text>
<text x="354.0" y="820.6" font-size="11.8" fill="#50535e" text-anchor="middle">Sep</text>
<text x="442.0" y="820.6" font-size="11.8" fill="#50535e" text-anchor="middle">18</text>
<text x="522.0" y="820.6" font-size="11.8" fill="#50535e" text-anchor="middle">Oct</text>
<text x="603.0" y="820.6" font-size="11.8" fill="#50535e" text-anchor="middle">16</text>
<text x="699.0" y="820.6" font-size="11.8" fill="#50535e" text-anchor="middle">Nov</text>
<text x="779.0" y="820.6" font-size="11.8" fill="#50535e" text-anchor="middle">15</text>
<text x="875.0" y="820.6" font-size="11.8" fill="#50535e" text-anchor="middle">Dec</text>
<text x="955.0" y="820.6" font-size="11.8" fill="#50535e" text-anchor="middle">15</text>
<text x="1035.0" y="820.6" font-size="11.8" fill="#50535e" text-anchor="middle" font-weight="bold">2024</text>
<text x="1115.0" y="820.6" font-size="11.8" fill="#50535e" text-anchor="middle">16</text>
<text x="1211.0" y="820.6" font-size="11.8" fill="#50535e" text-anchor="middle">Feb</text>
<text x="1291.0" y="820.6" font-size="11.8" fill="#50535e" text-anchor="middle">15</text>
<text x="1380.0" y="820.6" font-size="11.8" fill="#50535e" text-anchor="middle">Mar</text>
<text x="0.3" y="820.6" font-size="11.8" fill="#50535e" clip-path="url(#pan)">ul</text>
<text x="1449.5" y="820.6" font-size="11.8" fill="#50535e">1</text>
<path d="M1484.4 817.3L1488 811H1495.3L1498.9 817.3L1495.3 823.7H1488Z" fill="none" stroke="#131722" stroke-width="1.2" stroke-linejoin="round"/>
<circle cx="1491.6" cy="817.3" r="2.2" fill="none" stroke="#131722" stroke-width="1.2"/>
<g transform="translate(16.2,770.7) scale(0.825)" fill="#131722"><path d="M14 22H7V11H0V4h14z"/><circle cx="20" cy="8" r="4"/><path d="M28 22h-8l7.5-18h8z"/></g>
<g filter="url(#wsh)" opacity="0.9">
<g transform="translate(1288,741) skewX(-14)"><path d="M7 3L15 9 M3 18L11 24 M3 53L14 32 M30 -1L24 9 M24 7H56 M26 20H52V48 M26 16V52 M15 34H58 M22 48H52 M39 22V46" fill="none" stroke="#fff" stroke-width="9.6" stroke-linejoin="miter" stroke-linecap="butt"/></g>
<g transform="translate(1346,741) skewX(-14)"><path d="M10 6H43L41 24 M17 3L13 23H51L48 47L36 51 M3 37H43" fill="none" stroke="#fff" stroke-width="9.6" stroke-linejoin="miter" stroke-linecap="butt"/></g>
<g transform="translate(1410,741) skewX(-14)"><path d="M7 3V35 M4 6H27V35 M7 20H27 M4 34H27 M16 34L4 52 M19 37L28 50 M31 16H57 M47 0V48L37 51 M45 19L30 41" fill="none" stroke="#fff" stroke-width="9.6" stroke-linejoin="miter" stroke-linecap="butt"/></g>
<g transform="translate(1467,741) skewX(-14)"><path d="M17 0L7 15H19 M20 13L5 31L20 29 M2 49L20 42 M28 6H52L31 27 M39 14L56 28 M30 35H54 M42 35V50 M26 50H57" fill="none" stroke="#fff" stroke-width="9.6" stroke-linejoin="miter" stroke-linecap="butt"/></g>
</g>
<text x="1467.8" y="796.8" font-size="12" fill="#50535e" textLength="44.5" lengthAdjust="spacingAndGlyphs" opacity="0.85">−250.00</text>
<g filter="url(#wsh2)" font-family="Liberation Sans, sans-serif" font-weight="bold" font-style="italic" font-size="32.5" fill="#6d9df0" fill-opacity="0.88">
<text x="1289" y="828.2">z</text>
<text x="1315" y="828.2">z</text>
<text x="1344" y="828.2">r</text>
<text x="1369" y="828.2">t</text>
<text x="1390.5" y="828.2">0</text>
<text x="1421" y="828.2">1</text>
<text x="1445.5" y="828.2">.</text>
<text x="1465.5" y="828.2">c</text>
<text x="1491.5" y="828.2">n</text>
</g>
</g>
</svg>
</body></html>
